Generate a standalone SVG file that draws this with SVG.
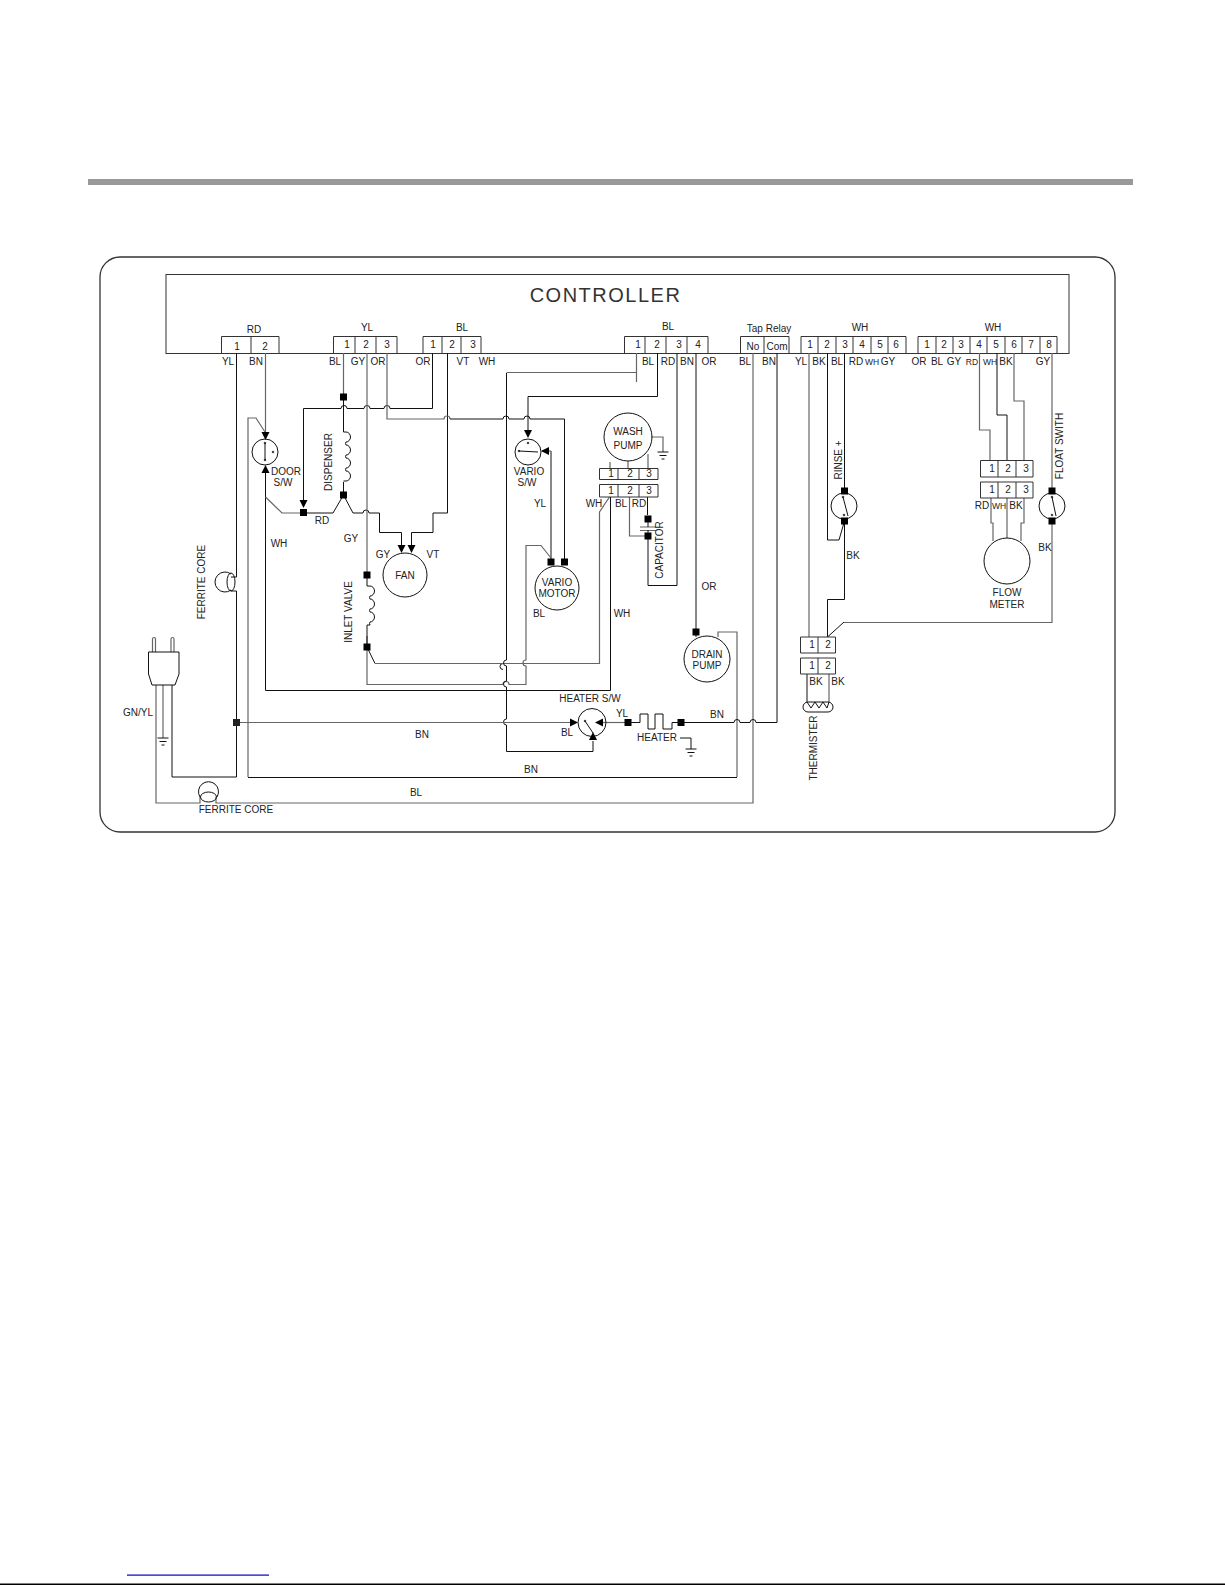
<svg xmlns="http://www.w3.org/2000/svg" width="1225" height="1585" viewBox="0 0 1225 1585">
<style>
text{font-family:"Liberation Sans",Arial,sans-serif;font-size:10px;fill:#222;text-anchor:middle}
.s{font-size:8.5px}
path,line,rect,circle,ellipse{fill:none;stroke:#111;stroke-width:1}
.g{stroke:#666;stroke-width:1.2}
.box{stroke:#333;fill:#fff}
</style>
<defs>
<rect id="sq" x="-3.5" y="-3.5" width="7" height="7" style="fill:#000;stroke:none"/>
<polygon id="ad" points="-4,-8 4,-8 0,0" fill="#000"/>
<polygon id="au" points="-4,8 4,8 0,0" fill="#000"/>
<polygon id="al" points="8,-4 8,4 0,0" fill="#000"/>
<polygon id="ar" points="-8,-4 -8,4 0,0" fill="#000"/>
<path id="gnd" d="M-5.500 0H5.500M-3.500 3.500H3.500M-1.500 7H1.500"/>
</defs>
<rect width="1225" height="1585" style="fill:#fff;stroke:none"/>
<rect x="88" y="179" width="1045" height="6" style="fill:#999;stroke:none"/>
<rect x="100" y="257" width="1015" height="575" rx="20" ry="20" style="stroke:#333;stroke-width:1.300"/>

<g id="controller">
<rect x="166" y="274.500" width="903" height="79" class="box"/>
<text x="605.500" y="302" style="font-size:20px;letter-spacing:1.5px;fill:#333">CONTROLLER</text>
</g>
<g id="conn-rd">
<path class="box" d="M221.500 353V336.500H279V353M251 336.500V353"/>
<text x="254" y="332.500">RD</text><text x="237" y="350">1</text><text x="265" y="350">2</text>
</g>
<g id="conn-yl">
<path class="box" d="M333.500 353V336.500H397V353M355 336.500V353M376 336.500V353"/>
<text x="367" y="331">YL</text><text x="347" y="348">1</text><text x="366" y="348">2</text><text x="387" y="348">3</text>
</g>
<g id="conn-bl1">
<path class="box" d="M423 353V336.500H481V353M442 336.500V353M461 336.500V353"/>
<text x="462" y="331">BL</text><text x="433" y="348">1</text><text x="452" y="348">2</text><text x="473" y="348">3</text>
</g>
<g id="conn-bl2">
<path class="box" d="M624.500 353V336.500H708V353M645 336.500V353M666 336.500V353M687 336.500V353"/>
<text x="668" y="330">BL</text><text x="638" y="348">1</text><text x="657" y="348">2</text><text x="679" y="348">3</text><text x="698" y="348">4</text>
</g>
<g id="conn-tap">
<path class="box" d="M740.500 353V336.500H789V353M764 336.500V353"/>
<text x="769" y="332">Tap Relay</text><text x="753" y="350">No</text><text x="777" y="350">Com</text>
</g>
<g id="conn-wh1">
<path class="box" d="M801 353V336.500H906V353M818 336.500V353M836 336.500V353M853 336.500V353M871 336.500V353M888 336.500V353"/>
<text x="860" y="331">WH</text><text x="810" y="348">1</text><text x="827" y="348">2</text><text x="845" y="348">3</text><text x="862" y="348">4</text><text x="880" y="348">5</text><text x="896" y="348">6</text>
</g>
<g id="conn-wh2">
<path class="box" d="M918 353V336.500H1057V353M936 336.500V353M953 336.500V353M970 336.500V353M987 336.500V353M1005 336.500V353M1022 336.500V353M1040 336.500V353"/>
<text x="993" y="331">WH</text><text x="927" y="348">1</text><text x="944" y="348">2</text><text x="961" y="348">3</text><text x="979" y="348">4</text><text x="996" y="348">5</text><text x="1014" y="348">6</text><text x="1031" y="348">7</text><text x="1049" y="348">8</text>
</g>

<g id="connectors">
<path d="M236.500 353V577H231M231 591H236.500V777H172V685"/>
<path class="g" d="M265.500 353V432"/>
<path d="M265.500 472V690.500H610.500V488"/>
<path class="g" d="M265.500 497L282 513H303"/>
<path d="M303 513H333L343.500 495L353 513H363a3 3 0 0 1 6 0H379.500V532.500H401.500V545"/>
<path class="g" d="M248 777V418H256L265 432"/>
<path d="M248 777.500H737"/>
<path class="g" d="M737 777V632H718V637"/>
<path d="M432.500 353V408.500H390a3 3 0 0 0 -6 0H370a3 3 0 0 0 -6 0H347a3 3 0 0 0 -6 0H303.500V500"/>
<path class="g" d="M343.500 353V397"/>
<path d="M343.500 397V432M343.500 482V495"/>
<path d="M447.500 353V513H433V532.500H411.500V545"/>
<path class="g" d="M387 353V419H444a3 3 0 0 1 6 0"/>
<path d="M450 419H503a3 3 0 0 1 6 0H524a3 3 0 0 1 6 0H564.500V562"/>
<path d="M551 451V562"/>
<path class="g" d="M542 451H551"/>
<path class="g" d="M367 353V575"/>
<path class="g" d="M367 636V684.500H503a3 3 0 0 1 6 0H526V666a3 3 0 0 1 0 -6V545.500H541L551 558"/>
<path d="M367 647L375 663.500H503a3 3 0 0 0 0 6"/>
<path class="g" d="M375 663.500H599.500V512L609.500 497"/>
<path class="g" d="M636.500 353V382M636.500 372.500H506.500"/>
<path d="M506.500 373V660a3 3 0 0 0 0 6V681a3 3 0 0 0 0 6V719a3 3 0 0 0 0 6V751.500H593V741"/>
<path d="M657.500 353V396.500H528V430"/>
<path d="M677 353V585.500H648V536"/>
<path d="M647.500 497V515"/>
<path class="g" d="M629.500 497V536H648"/>
<path d="M696 353V632M696 632V637"/>
<path class="g" d="M753 353V803H216V797M200 797V803H156V685"/>
<path d="M777 353V722.500H756a3 3 0 0 0 -6 0H740a3 3 0 0 0 -6 0H681"/>
<path class="g" d="M236.500 722.500H572"/>
<path class="g" d="M603 722.500H628"/>
<path class="g" d="M809 353V637"/>
<path d="M827.500 353V540H839L844.500 521"/>
<path d="M844.500 353V491M844.500 521V599.500H827.500V637"/>
<path d="M827.500 637L844 622"/>
<path class="g" d="M844 622.500H1052V521M1052 353V491"/>
<path class="g" d="M979.500 353V430H990V460"/>
<path d="M997 353V415H1007V460"/>
<path class="g" d="M1014 353V401H1024V460"/>
<path class="g" d="M991 498V523H993V541"/>
<path class="g" d="M1007 498V538"/>
<path class="g" d="M1024 498V523H1021V541"/>
<path d="M807 674V702"/>
<path class="g" d="M829 674V702"/>
<path class="g" d="M610 462V468M628 461V468M648 454V468"/>
<path class="g" d="M651 437H663V452"/>
<path d="M680 738H691V749"/>
<path class="g" d="M163 685V738"/>
<rect x="233" y="719" width="7" height="7" style="fill:#222;stroke:none"/>
</g>

<g id="plug">
<path class="g" d="M152.500 652V639a1.500 1.500 0 0 1 3 0V652M171 652V639a1.500 1.500 0 0 1 3 0V652"/>
<path d="M148.500 652H179V674L175 685H152L148.500 674Z"/>
<use href="#gnd" x="163" y="738"/>
<text x="138" y="716">GN/YL</text>
</g>
<g id="ferrite-1">
<path d="M231 574A10 10 0 1 0 231 590"/><ellipse cx="231" cy="582" rx="4" ry="9"/>
<text transform="rotate(-90 201 582)" x="201" y="585.500">FERRITE CORE</text>
</g>
<g id="ferrite-2">
<path d="M200 797A10 10 0 1 1 217 797"/><ellipse cx="208.500" cy="797" rx="8" ry="5"/>
<text x="236" y="813">FERRITE CORE</text>
</g>
<g id="door-switch">
<circle cx="265" cy="452" r="13"/><path d="M265 443V460"/>
<circle cx="265" cy="443" r=".8"/><circle cx="265" cy="460" r=".8"/><circle cx="273" cy="452" r=".8"/>
<use href="#ad" x="265.500" y="440"/><use href="#au" x="265.500" y="465"/>
<text x="286" y="475">DOOR</text><text x="283" y="486">S/W</text>
</g>
<g id="dispenser">
<use href="#sq" x="343.500" y="397"/><use href="#sq" x="343.500" y="495"/>
<path d="M343.500 432H346a4.500 5 0 0 1 0 10a3 3 0 0 0 0 3a4.500 5 0 0 1 0 10a3 3 0 0 0 0 3a4.500 5 0 0 1 0 10a3 3 0 0 0 0 3a4.500 5 0 0 1 0 10H343.500"/>
<text transform="rotate(-90 328 462)" x="328" y="465.500">DISPENSER</text>
<use href="#ad" x="303.500" y="508"/><use href="#sq" x="303.500" y="512.500"/>
<text x="322" y="524">RD</text><text x="351" y="542">GY</text>
<text x="279" y="546.500">WH</text>
</g>
<g id="fan">
<circle cx="405" cy="575" r="22"/><use href="#ad" x="401.500" y="553"/><use href="#ad" x="411.500" y="553"/>
<text x="405" y="579">FAN</text><text x="383" y="558">GY</text><text x="433" y="558">VT</text>
</g>
<g id="inlet-valve">
<use href="#sq" x="367" y="575"/><use href="#sq" x="367" y="647"/>
<path d="M367 586H370a4.500 5 0 0 1 0 10a3 3 0 0 0 0 3a4.500 5 0 0 1 0 10a3 3 0 0 0 0 3a4.500 5 0 0 1 0 10a3 3 0 0 0 0 3H367"/>
<path d="M367 578V586M367 625V644"/>
<text transform="rotate(-90 348 612)" x="348" y="615.500">INLET VALVE</text>
</g>
<g id="vario-switch">
<circle cx="528" cy="452" r="13"/><path d="M519 451L538 452"/><circle cx="519" cy="451" r=".8"/><circle cx="528" cy="443" r=".8"/>
<use href="#ad" x="528" y="438"/><use href="#al" x="541" y="451"/>
<text x="529" y="474.500">VARIO</text><text x="527" y="486">S/W</text><text x="540" y="507">YL</text>
</g>
<g id="wash-pump">
<circle cx="628" cy="437" r="24"/>
<text x="628" y="434.500">WASH</text><text x="628" y="449">PUMP</text>
<use href="#gnd" x="663" y="452"/>
<path class="box" d="M599.500 468.500H658V479.500H599.500ZM618 468.500V479.500M639 468.500V479.500"/>
<path class="box" d="M599.500 484.500H658V497H599.500ZM618 484.500V497M639 484.500V497"/>
<text x="611" y="477">1</text><text x="630" y="477">2</text><text x="649" y="477">3</text>
<text x="611" y="494">1</text><text x="630" y="494">2</text><text x="649" y="494">3</text>
<text x="594" y="507">WH</text><text x="621" y="507">BL</text><text x="639" y="507">RD</text>
</g>
<g id="capacitor">
<use href="#sq" x="648" y="519"/><use href="#sq" x="648" y="536"/>
<path class="g" d="M640 527H656M640 530.500H656"/>
<path d="M648 522V527M648 530V533"/>
<text transform="rotate(-90 659 550)" x="659" y="553.500">CAPACITOR</text>
</g>
<g id="vario-motor">
<circle cx="557" cy="588" r="22"/><use href="#sq" x="551" y="562"/><use href="#sq" x="564.500" y="562"/>
<text x="557" y="586">VARIO</text><text x="557" y="597">MOTOR</text>
<text x="539" y="617">BL</text><text x="622" y="617">WH</text>
</g>
<g id="drain-pump">
<circle cx="707" cy="659" r="23"/><use href="#sq" x="696" y="632"/>
<text x="707" y="657.500">DRAIN</text><text x="707" y="669">PUMP</text><text x="709" y="590">OR</text>
</g>
<g id="heater-switch">
<circle cx="592" cy="722.500" r="14"/><path d="M585 721L593 733"/>
<use href="#ar" x="578" y="722.500"/><use href="#al" x="595" y="722.500"/><use href="#au" x="593" y="732"/>
<circle cx="585" cy="721" r=".8"/>
<text x="590" y="702">HEATER S/W</text><text x="567" y="736">BL</text><text x="622" y="717">YL</text>
</g>
<g id="heater">
<use href="#sq" x="628" y="722.500"/><use href="#sq" x="681" y="722.500"/>
<path d="M628 722.500H640V714H648V729H655V714H663V729H672V722.500H681"/>
<text x="657" y="741">HEATER</text><use href="#gnd" x="691" y="749"/>
<text x="717" y="718">BN</text>
</g>
<g id="rinse">
<circle cx="844" cy="506" r="13"/><path d="M843 497L848 516"/><circle cx="843" cy="497" r=".8"/><circle cx="844" cy="515" r=".8"/>
<use href="#sq" x="844.500" y="491"/><use href="#sq" x="844.500" y="521"/>
<text transform="rotate(-90 838 460)" x="838" y="463.500">RINSE +</text><text x="853" y="559">BK</text>
</g>
<g id="float-switch">
<circle cx="1052" cy="506" r="13"/><path d="M1052 497L1056 516"/><circle cx="1052" cy="497" r=".8"/><circle cx="1052" cy="515" r=".8"/>
<use href="#sq" x="1052" y="491"/><use href="#sq" x="1052" y="521"/>
<text transform="rotate(-90 1059 446)" x="1059" y="449.500">FLOAT SWITH</text><text x="1045" y="551">BK</text>
</g>
<g id="flow-meter">
<path class="box" d="M980.500 460.500H1033V477H980.500ZM998 460.500V477M1016 460.500V477"/>
<path class="box" d="M980.500 482H1033V498H980.500ZM998 482V498M1016 482V498"/>
<text x="992" y="472">1</text><text x="1008" y="472">2</text><text x="1026" y="472">3</text>
<text x="992" y="493">1</text><text x="1008" y="493">2</text><text x="1026" y="493">3</text>
<text x="982" y="509">RD</text><text x="999" y="509" class="s">WH</text><text x="1016" y="509">BK</text>
<circle cx="1007" cy="561" r="23"/>
<text x="1007" y="596">FLOW</text><text x="1007" y="608">METER</text>
</g>
<g id="thermistor">
<path class="box" d="M800.500 637H835.500V653H800.500ZM818 637V653"/>
<path class="box" d="M800.500 658H835.500V674H800.500ZM818 658V674"/>
<text x="812" y="648">1</text><text x="828" y="648">2</text><text x="812" y="669">1</text><text x="828" y="669">2</text>
<text x="816" y="685">BK</text><text x="838" y="685">BK</text>
<rect x="803" y="702" width="30" height="10" rx="5" ry="5"/>
<path d="M807 702L811 708L815 702L819 708L823 702L827 708L829 702"/>
<text transform="rotate(-90 813 748)" x="813" y="751.500">THERMISTER</text>
</g>
<g id="wire-labels">
<text x="228" y="365">YL</text><text x="256" y="365">BN</text><text x="335" y="365">BL</text><text x="358" y="365">GY</text><text x="378" y="365">OR</text><text x="423" y="365">OR</text><text x="463" y="365">VT</text><text x="487" y="365">WH</text>
<text x="648" y="365">BL</text><text x="668" y="365">RD</text><text x="687" y="365">BN</text><text x="709" y="365">OR</text>
<text x="745" y="365">BL</text><text x="769" y="365">BN</text><text x="801" y="365">YL</text><text x="819" y="365">BK</text><text x="837" y="365">BL</text><text x="856" y="365">RD</text><text x="872" y="365" class="s">WH</text><text x="888" y="365">GY</text>
<text x="919" y="365">OR</text><text x="937" y="365">BL</text><text x="954" y="365">GY</text><text x="972" y="365" class="s">RD</text><text x="990" y="365" class="s">WH</text><text x="1006" y="365">BK</text><text x="1043" y="365">GY</text>
<text x="422" y="738">BN</text><text x="416" y="796">BL</text><text x="531" y="773">BN</text>
</g>
<rect x="127" y="1574.500" width="142" height="1.200" style="fill:#0000cc;stroke:none"/>
<rect x="0" y="1583.500" width="1225" height="1.500" style="fill:#000;stroke:none"/>
</svg>
